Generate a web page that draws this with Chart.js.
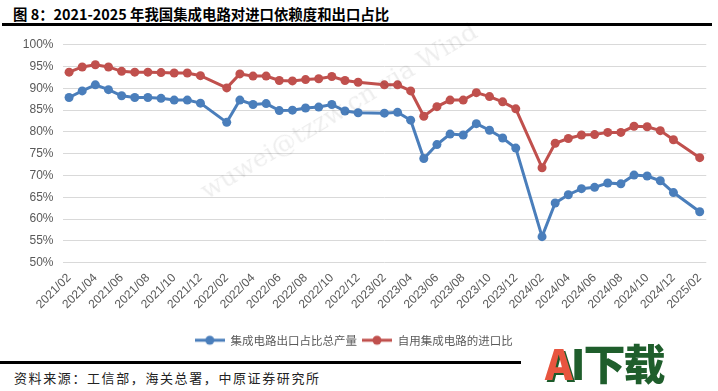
<!DOCTYPE html>
<html>
<head>
<meta charset="utf-8">
<script src="https://cdn.jsdelivr.net/npm/chart.js@4"></script>
<style>
  html, body { margin: 0; padding: 0; background: #fff; }
  body { width: 718px; height: 391px; position: relative; overflow: hidden; font-family: "Noto Sans CJK SC", sans-serif; }
  #title { position: absolute; left: 13px; top: 3px; font-size: 14.4px; font-weight: bold; color: #000; white-space: nowrap; }
  #rule-top { position: absolute; left: 2px; top: 23px; width: 710px; height: 3px; background: #000; }
  #chart-box { position: absolute; left: 0; top: 0; width: 718px; height: 361px; }
  #rule-bottom { position: absolute; left: 0; top: 361px; width: 521px; height: 3px; background: #000; }
  #source { position: absolute; left: 14px; top: 368px; font-size: 13px; letter-spacing: 1.6px; color: #222; white-space: nowrap; }
  #logo { position: absolute; left: 545px; top: 336px; font-size: 42px; font-weight: 900; line-height: 52px; white-space: nowrap; letter-spacing: -2px; }
  #logo .a { color: #e8553f; text-shadow: 2px 2px 0 #1d5a2a; }
  #logo .rest { color: #1f5e2c; }
  #wm { position: absolute; left: 195px; top: 180px; font-family: "DejaVu Serif", serif; font-size: 25px; color: rgba(0,0,0,0.07); transform: rotate(-31deg); transform-origin: left top; white-space: nowrap; }
</style>
</head>
<body>
<div id="title">图 8：2021-2025 年我国集成电路对进口依赖度和出口占比</div>
<div id="rule-top"></div>
<div id="chart-box"><canvas id="c"></canvas></div>
<div id="wm">wuwei@tzzw.cn via Wind</div>
<div id="rule-bottom"></div>
<div id="source">资料来源：工信部，海关总署，中原证券研究所</div>
<div id="logo"><span class="a">A</span><span class="rest">I下载</span></div>
<script>
// Months (January figures are not published separately)
const months = [
  '2021/02','2021/03','2021/04','2021/05','2021/06','2021/07','2021/08','2021/09','2021/10','2021/11','2021/12',
  '2022/01','2022/02','2022/03','2022/04','2022/05','2022/06','2022/07','2022/08','2022/09','2022/10','2022/11','2022/12',
  '2023/01','2023/02','2023/03','2023/04','2023/05','2023/06','2023/07','2023/08','2023/09','2023/10','2023/11','2023/12',
  '2024/01','2024/02','2024/03','2024/04','2024/05','2024/06','2024/07','2024/08','2024/09','2024/10','2024/11','2024/12',
  '2025/01','2025/02'
];

// 集成电路出口占比总产量 (%)
const exportShare = [
  87.9, 89.4, 90.8, 89.7, 88.3, 87.9, 87.9, 87.7, 87.3, 87.3, 86.6,
  null, 82.2, 87.3, 86.3, 86.5, 84.9, 85.0, 85.5, 85.7, 86.3, 84.8, 84.4,
  null, 84.3, 84.5, 82.7, 73.9, 77.1, 79.5, 79.3, 81.9, 80.4, 78.6, 76.3,
  null, 56.0, 63.7, 65.6, 67.0, 67.3, 68.3, 68.1, 70.1, 69.9, 68.8, 66.1,
  null, 61.7
];

// 自用集成电路的进口比 (%)
const importShare = [
  93.7, 94.9, 95.4, 94.9, 93.9, 93.7, 93.7, 93.6, 93.5, 93.5, 92.9,
  null, 90.1, 93.3, 92.8, 92.8, 91.8, 91.7, 92.0, 92.2, 92.7, 91.8, 91.4,
  null, 90.8, 90.8, 89.4, 83.6, 85.8, 87.3, 87.3, 89.0, 88.1, 86.9, 85.3,
  null, 71.8, 77.4, 78.5, 79.3, 79.4, 79.9, 79.9, 81.3, 81.2, 80.3, 78.2,
  null, 74.1
];

const yTicks = [50, 55, 60, 65, 70, 75, 80, 85, 90, 95, 100];

const BLUE = '#4a7ebb';
const RED = '#c0504d';

// little line+dot icon for the legend
function legendIcon(color) {
  const cv = document.createElement('canvas');
  cv.width = 30; cv.height = 12;
  const g = cv.getContext('2d');
  g.strokeStyle = color; g.lineWidth = 3;
  g.beginPath(); g.moveTo(0, 6); g.lineTo(30, 6); g.stroke();
  g.fillStyle = color;
  g.beginPath(); g.arc(15, 6, 4.5, 0, Math.PI * 2); g.fill();
  return cv;
}
const icons = [legendIcon(BLUE), legendIcon(RED)];

const lineStyle = (color) => ({
  borderColor: color,
  backgroundColor: color,
  borderWidth: 3,
  pointRadius: 4.5,
  pointHoverRadius: 4.5,
  pointBorderWidth: 0,
  pointBackgroundColor: color,
  spanGaps: true,
  tension: 0
});

new Chart(document.getElementById('c'), {
  type: 'line',
  data: {
    labels: months,
    datasets: [
      Object.assign({ label: '集成电路出口占比总产量', data: exportShare }, lineStyle(BLUE)),
      Object.assign({ label: '自用集成电路的进口比', data: importShare }, lineStyle(RED))
    ]
  },
  options: {
    responsive: true,
    maintainAspectRatio: false,
    animation: false,
    layout: { padding: { top: 44.7, right: 10.5, bottom: 5, left: 0 } },
    plugins: {
      tooltip: { enabled: false },
      legend: {
        position: 'bottom',
        labels: {
          usePointStyle: true,
          pointStyleWidth: 30,
          padding: 5,
          color: '#595959',
          font: { family: '"Noto Sans CJK SC", sans-serif', size: 11.5 },
          generateLabels: (chart) => chart.data.datasets.map((ds, i) => ({
            text: ds.label,
            pointStyle: icons[i],
            fillStyle: ds.borderColor,
            strokeStyle: ds.borderColor,
            lineWidth: 0,
            fontColor: '#595959',
            datasetIndex: i
          }))
        }
      }
    },
    scales: {
      x: {
        offset: true,
        grid: { display: false, drawTicks: false },
        border: { display: false },
        ticks: {
          autoSkip: false,
          maxRotation: 45,
          minRotation: 45,
          padding: 8,
          color: '#595959',
          font: { family: 'Liberation Sans, Arial, sans-serif', size: 12 },
          callback: function (v, i) { return i % 2 === 0 ? this.getLabelForValue(v) : ''; }
        },
        afterFit: (s) => { s.height = 66.7; }
      },
      y: {
        min: 50,
        max: 100,
        afterBuildTicks: (s) => { s.ticks = yTicks.map(v => ({ value: v })); },
        grid: { color: '#d9d9d9', lineWidth: 1, drawTicks: false },
        border: { display: false },
        ticks: {
          padding: 9,
          color: '#595959',
          font: { family: 'Liberation Sans, Arial, sans-serif', size: 12 },
          callback: (v) => v + '%'
        },
        afterFit: (s) => { s.width = 62.5; }
      }
    }
  }
});
</script>
</body>
</html>
